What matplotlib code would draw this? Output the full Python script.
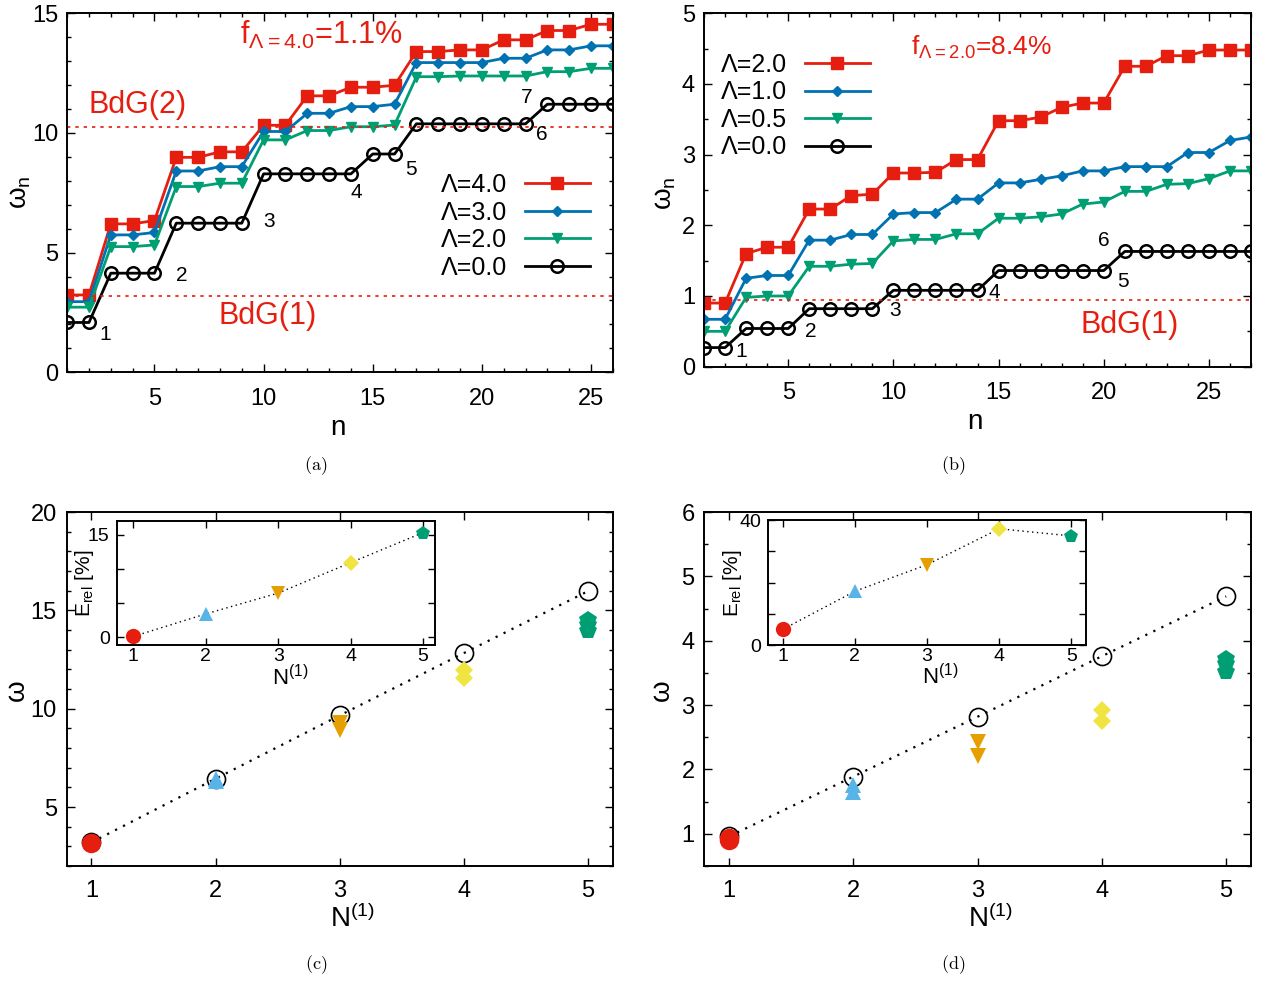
import numpy as np
import matplotlib
matplotlib.use('Agg')
import matplotlib.pyplot as plt
from matplotlib.ticker import MultipleLocator

plt.rcParams['font.family'] = ['Liberation Sans', 'DejaVu Sans']
plt.rcParams['mathtext.fontset'] = 'custom'
plt.rcParams['mathtext.rm'] = 'Liberation Sans'
plt.rcParams['mathtext.default'] = 'regular'

RED = '#E51E10'
BLUE = '#0072B2'
GREEN = '#009E73'
SKY = '#56B4E9'
ORANGE = '#E69F00'
YELLOW = '#F0E442'

# panel (a): spectrum for Lambda = 4, 3, 2, 0
n_a = list(range(1, 27))
a_lam4 = [3.23, 3.23, 6.2, 6.2, 6.34, 8.98, 8.98, 9.21, 9.21, 10.32, 10.32, 11.55, 11.55,
          11.91, 11.91, 11.99, 13.4, 13.4, 13.47, 13.47, 13.89, 13.89, 14.28, 14.28, 14.54, 14.54]
a_lam3 = [2.95, 2.95, 5.74, 5.74, 5.84, 8.41, 8.41, 8.59, 8.59, 10.06, 10.06, 10.82, 10.82,
          11.1, 11.1, 11.2, 12.94, 12.94, 12.94, 12.94, 13.12, 13.12, 13.47, 13.47, 13.64, 13.64]
a_lam2 = [2.72, 2.72, 5.25, 5.25, 5.32, 7.76, 7.76, 7.9, 7.9, 9.71, 9.71, 10.1, 10.1,
          10.26, 10.26, 10.33, 12.35, 12.35, 12.38, 12.38, 12.38, 12.38, 12.56, 12.56, 12.7, 12.7]
a_lam0 = [2.08, 2.08, 4.14, 4.14, 4.14, 6.23, 6.23, 6.23, 6.23, 8.29, 8.29, 8.29, 8.29,
          8.29, 9.12, 9.12, 10.38, 10.38, 10.38, 10.38, 10.38, 10.38, 11.2, 11.2, 11.2, 11.2]
a_bdg = [3.2, 10.26]
a_num_lbl = ['1', '2', '3', '4', '5', '6', '7']
a_num_x = [2.73, 6.26, 10.26, 14.26, 16.76, 22.76, 22.05]
a_num_y = [1.56, 4.03, 6.3, 7.5, 8.48, 9.94, 11.48]

# panel (b): spectrum for Lambda = 2, 1, 0.5, 0
n_b = list(range(1, 28))
b_lam2 = [0.9, 0.9, 1.6, 1.69, 1.69, 2.23, 2.23, 2.42, 2.44, 2.74, 2.74, 2.75, 2.93, 2.93,
          3.48, 3.48, 3.53, 3.67, 3.73, 3.73, 4.25, 4.25, 4.4, 4.4, 4.48, 4.48, 4.48]
b_lam1 = [0.67, 0.67, 1.25, 1.29, 1.29, 1.79, 1.79, 1.87, 1.87, 2.16, 2.18, 2.18, 2.37, 2.37,
          2.6, 2.6, 2.65, 2.7, 2.77, 2.77, 2.83, 2.83, 2.83, 3.03, 3.03, 3.2, 3.25]
b_lam05 = [0.5, 0.5, 0.98, 1.0, 1.0, 1.42, 1.42, 1.45, 1.46, 1.78, 1.8, 1.8, 1.88, 1.88,
           2.1, 2.1, 2.12, 2.16, 2.3, 2.33, 2.48, 2.48, 2.58, 2.59, 2.66, 2.77, 2.77]
b_lam0 = [0.27, 0.27, 0.54, 0.54, 0.54, 0.82, 0.82, 0.82, 0.82, 1.08, 1.08, 1.08, 1.08, 1.08,
          1.36, 1.36, 1.36, 1.36, 1.36, 1.36, 1.63, 1.63, 1.63, 1.63, 1.63, 1.63, 1.63]
b_bdg = 0.94
b_num_lbl = ['1', '2', '3', '4', '5', '6']
b_num_x = [2.77, 6.07, 10.06, 14.8, 20.9, 20.0]
b_num_y = [0.21, 0.5, 0.8, 1.05, 1.2, 1.79]

# panels (c), (d): omega vs N(1)
N1 = [1, 2, 3, 4, 5]
c_exact = [3.2, 6.44, 9.66, 12.83, 15.98]
c_pts = [[3.18], [6.32, 6.42], [8.9, 9.25], [11.55, 11.97], [13.95, 14.25, 14.5]]
c_erel = [0.1, 3.4, 6.45, 10.9, 15.3]
d_exact = [0.96, 1.89, 2.82, 3.76, 4.69]
d_pts = [[0.9, 0.93], [1.65, 1.76], [2.21, 2.43], [2.75, 2.92], [3.51, 3.64, 3.72]]
d_erel = [5.0, 17.2, 25.7, 37.2, 34.9]
pt_colors = [RED, SKY, ORANGE, YELLOW, GREEN]
pt_markers = ['o', '^', 'v', 'D', 'p']
pt_sizes = [14, 12, 12, 9.5, 13]
in_sizes = [11, 10, 10, 8, 10]

fig = plt.figure(figsize=(12.72, 9.83), dpi=100)
ax_a = fig.add_axes([0.0528, 0.6213, 0.4290, 0.3652])
ax_b = fig.add_axes([0.5535, 0.6270, 0.4300, 0.3595])
ax_c = fig.add_axes([0.0523, 0.1190, 0.4296, 0.3601])
ax_d = fig.add_axes([0.5537, 0.1190, 0.4298, 0.3601])
in_c = fig.add_axes([0.0917, 0.3435, 0.2500, 0.1265])
in_d = fig.add_axes([0.6039, 0.3438, 0.2498, 0.1272])


def style(ax, fs=17, xpad=11, ypad=6.5, lw=1.4):
    for s in ax.spines.values():
        s.set_linewidth(lw)
    ax.tick_params(which='both', direction='in', top=True, right=True, labelsize=fs)
    ax.tick_params(which='major', length=6, width=1)
    ax.tick_params(which='minor', length=3, width=1)
    ax.tick_params(axis='x', pad=xpad)
    ax.tick_params(axis='y', pad=ypad)


leg_kw = dict(loc='upper left', markerfirst=False, frameon=False, fontsize=18,
              handlelength=2.6, handletextpad=0.7, labelspacing=0.14,
              borderpad=0, borderaxespad=0)

# (a)
ax_a.plot(n_a, a_lam4, '-s', color=RED, lw=2, ms=9, label='Λ=4.0')
ax_a.plot(n_a, a_lam3, '-D', color=BLUE, lw=2, ms=5.5, label='Λ=3.0')
ax_a.plot(n_a, a_lam2, '-v', color=GREEN, lw=2, ms=6.5, label='Λ=2.0')
ax_a.plot(n_a, a_lam0, '-o', color='black', lw=2, ms=9, mfc='none', mew=1.8, label='Λ=0.0')
for v in a_bdg:
    ax_a.axhline(v, color=RED, lw=1.2, ls=(0, (2, 3)))
ax_a.set_xlim(1, 26)
ax_a.set_ylim(0, 15)
ax_a.xaxis.set_major_locator(MultipleLocator(5))
ax_a.xaxis.set_minor_locator(MultipleLocator(1))
ax_a.yaxis.set_major_locator(MultipleLocator(5))
ax_a.yaxis.set_minor_locator(MultipleLocator(1))
style(ax_a)
for t, x, y in zip(a_num_lbl, a_num_x, a_num_y):
    ax_a.text(x, y, t, fontsize=15, ha='center', va='center')
ax_a.text(12.63, 14.08, 'f$_{Λ=4.0}$=1.1%', color=RED, fontsize=22, ha='center', va='center')
ax_a.text(4.24, 11.16, 'BdG(2)', color=RED, fontsize=22, ha='center', va='center')
ax_a.text(10.2, 2.35, 'BdG(1)', color=RED, fontsize=22, ha='center', va='center')
ax_a.legend(bbox_to_anchor=(0.685, 0.555), **leg_kw)

# (b)
ax_b.plot(n_b, b_lam2, '-s', color=RED, lw=2, ms=9, label='Λ=2.0')
ax_b.plot(n_b, b_lam1, '-D', color=BLUE, lw=2, ms=5.5, label='Λ=1.0')
ax_b.plot(n_b, b_lam05, '-v', color=GREEN, lw=2, ms=6.5, label='Λ=0.5')
ax_b.plot(n_b, b_lam0, '-o', color='black', lw=2, ms=9, mfc='none', mew=1.8, label='Λ=0.0')
ax_b.axhline(b_bdg, color=RED, lw=1.2, ls=(0, (2, 3)))
ax_b.set_xlim(1, 27)
ax_b.set_ylim(0, 5)
ax_b.xaxis.set_major_locator(MultipleLocator(5))
ax_b.xaxis.set_minor_locator(MultipleLocator(1))
ax_b.yaxis.set_major_locator(MultipleLocator(1))
ax_b.yaxis.set_minor_locator(MultipleLocator(0.5))
style(ax_b)
for t, x, y in zip(b_num_lbl, b_num_x, b_num_y):
    ax_b.text(x, y, t, fontsize=15, ha='center', va='center')
ax_b.text(14.2, 4.52, 'f$_{Λ=2.0}$=8.4%', color=RED, fontsize=19, ha='center', va='center')
ax_b.text(21.25, 0.59, 'BdG(1)', color=RED, fontsize=22, ha='center', va='center')
ax_b.legend(bbox_to_anchor=(0.031, 0.888), **leg_kw)


def omega_panel(ax, exact, pts, ylim):
    ax.plot(N1, exact, 'o', ls=(0, (1, 3)), color='black', lw=1.6, ms=13, mfc='none', mew=1.2)
    for i, vals in enumerate(pts):
        ax.plot([N1[i]] * len(vals), vals, ls='none', marker=pt_markers[i],
                color=pt_colors[i], ms=pt_sizes[i], mew=0)
    ax.set_xlim(0.8, 5.2)
    ax.set_ylim(*ylim)
    ax.set_xticks(N1)
    style(ax, xpad=10, ypad=7)


def inset_panel(ax, erel, ylim, yticks, ylabels):
    ax.plot(N1, erel, color='black', lw=1, ls=(0, (1, 2.5)))
    for i in range(5):
        ax.plot(N1[i], erel[i], ls='none', marker=pt_markers[i], color=pt_colors[i],
                ms=in_sizes[i], mew=0)
    ax.set_ylim(*ylim)
    ax.set_xticks(N1)
    ax.set_yticks(yticks)
    ax.set_yticklabels(ylabels)
    style(ax, fs=14, xpad=2, ypad=5, lw=1.4)
    ax.tick_params(which='major', length=5)


# (c)
omega_panel(ax_c, c_exact, c_pts, (2, 20))
ax_c.yaxis.set_major_locator(MultipleLocator(5))
ax_c.yaxis.set_minor_locator(MultipleLocator(1))
inset_panel(in_c, c_erel, (-1.2, 17), [0, 5, 10, 15], ['0', '', '', '15'])
in_c.set_xlim(0.77, 5.16)

# (d)
omega_panel(ax_d, d_exact, d_pts, (0.5, 6))
ax_d.yaxis.set_major_locator(MultipleLocator(1))
ax_d.yaxis.set_minor_locator(MultipleLocator(0.5))
inset_panel(in_d, d_erel, (0, 40), [0, 10, 20, 30, 40], ['0', '', '', '', '40'])
in_d.set_xlim(0.8, 5.2)

# axis labels
fig.text(0.2657, 0.5646, 'n', fontsize=20, ha='center', va='center')
fig.text(0.0157, 0.8047, 'ω$_n$', fontsize=20, ha='center', va='center', rotation=90)
fig.text(0.7665, 0.5707, 'n', fontsize=20, ha='center', va='center')
fig.text(0.5228, 0.8037, 'ω$_n$', fontsize=20, ha='center', va='center', rotation=90)
fig.text(0.2767, 0.0650, 'N$^{(1)}$', fontsize=20, ha='center', va='center')
fig.text(0.0134, 0.2981, 'ω', fontsize=20, ha='center', va='center', rotation=90)
fig.text(0.7783, 0.0650, 'N$^{(1)}$', fontsize=20, ha='center', va='center')
fig.text(0.5204, 0.2981, 'ω', fontsize=20, ha='center', va='center', rotation=90)
fig.text(0.0668, 0.4069, 'E$_{rel}$ [%]', fontsize=15, ha='center', va='center', rotation=90)
fig.text(0.2280, 0.3110, 'N$^{(1)}$', fontsize=16, ha='center', va='center')
fig.text(0.5755, 0.4069, 'E$_{rel}$ [%]', fontsize=15, ha='center', va='center', rotation=90)
fig.text(0.7390, 0.3120, 'N$^{(1)}$', fontsize=16, ha='center', va='center')

# panel tags
for x, y, t in [(0.2484, 0.526, '(a)'), (0.7492, 0.526, '(b)'),
                (0.2484, 0.0183, '(c)'), (0.7492, 0.0183, '(d)')]:
    fig.text(x, y, r'$\mathrm{' + t + '}$', fontsize=13, ha='center', va='center',
             math_fontfamily='cm')

plt.savefig('out.png', dpi=100)
